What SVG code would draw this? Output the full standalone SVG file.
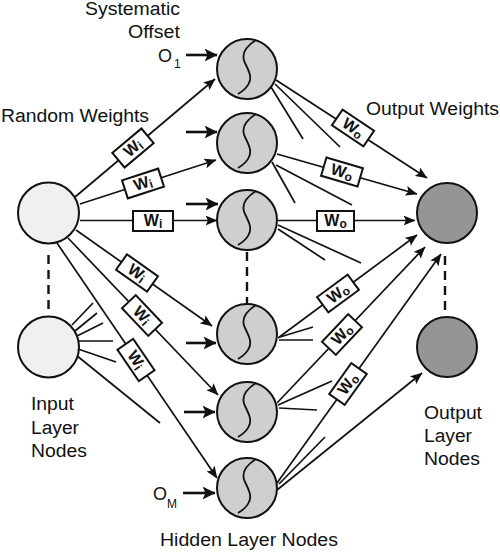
<svg xmlns="http://www.w3.org/2000/svg" xmlns:xlink="http://www.w3.org/1999/xlink" width="500" height="552" viewBox="0 0 500 552">
<style>
.lbl{font-family:"Liberation Sans",Arial,sans-serif;font-size:18px;fill:#111}
.sub{font-size:12px}
.in{fill:#f0f0f0;stroke:#111;stroke-width:2}
.hid{fill:#cfcfd1;stroke:#111;stroke-width:2}
.out{fill:#959597;stroke:#111;stroke-width:2}
.scurve{fill:none;stroke:#111;stroke-width:1.8}
.c{stroke:#111;stroke-width:1.7;fill:none}
.ca{stroke:#111;stroke-width:1.7;fill:none;marker-end:url(#ah)}
.off{stroke:#111;stroke-width:2.6;fill:none;marker-end:url(#ahb)}
.dash{stroke:#111;stroke-width:2.4;stroke-dasharray:9 6;fill:none}
.box{fill:#fff;stroke:#111;stroke-width:2}
.bt{font-family:"Liberation Sans",Arial,sans-serif;font-weight:bold;font-size:16px;fill:#111;text-anchor:middle}
.bs{font-size:12px}
</style>
<defs>
<marker id="ah" markerUnits="userSpaceOnUse" markerWidth="12" markerHeight="10" refX="11.5" refY="5" orient="auto" viewBox="0 0 12 10"><path d="M0,0 L12,5 L0,10 L2.5,5 Z" fill="#111"/></marker>
<marker id="ahb" markerUnits="userSpaceOnUse" markerWidth="13" markerHeight="13" refX="12.5" refY="6.5" orient="auto" viewBox="0 0 13 13"><path d="M0,0 L13,6.5 L0,13 L3,6.5 Z" fill="#111"/></marker>
<path id="sc" d="M9,-29 C-2,-22 -6,-14 -2,-6 C2,2 5,8 2,14 C0,19 -4,22 -9,25"/>
</defs>

<g id="connectors">
<!-- dashed continuation lines -->
<line class="dash" x1="48.5" y1="255" x2="48.5" y2="313"/>
<line class="dash" x1="247" y1="252" x2="247" y2="304"/>
<line class="dash" x1="445" y1="256" x2="445" y2="312"/>
<!-- input 1 to hidden -->
<line class="ca" x1="75" y1="197" x2="215" y2="79"/>
<line class="ca" x1="80" y1="204" x2="216" y2="160"/>
<line class="ca" x1="80" y1="220.5" x2="217" y2="220.5"/>
<line class="ca" x1="76" y1="230" x2="212" y2="326"/>
<line class="ca" x1="68" y1="238" x2="218" y2="395"/>
<line class="ca" x1="57" y1="243" x2="217" y2="478"/>
<!-- input 2 stubs -->
<line class="c" x1="72" y1="325" x2="93" y2="303"/>
<line class="c" x1="75" y1="331" x2="97" y2="313"/>
<line class="c" x1="77" y1="336" x2="103" y2="323"/>
<line class="c" x1="79" y1="341" x2="113" y2="341"/>
<line class="c" x1="78" y1="349" x2="116" y2="362"/>
<line class="c" x1="76" y1="355" x2="160" y2="423"/>
<!-- offset arrows -->
<line class="off" x1="186" y1="55" x2="217" y2="55"/>
<line class="off" x1="186" y1="132" x2="217" y2="132"/>
<line class="off" x1="186" y1="204" x2="218" y2="204"/>
<line class="off" x1="186" y1="343" x2="216" y2="343"/>
<line class="off" x1="184" y1="412" x2="215" y2="412"/>
<line class="off" x1="183" y1="493" x2="215" y2="493"/>
<!-- hidden to output -->
<line class="ca" x1="276" y1="80" x2="427" y2="178"/>
<line class="ca" x1="277" y1="154" x2="417" y2="194"/>
<line class="ca" x1="278" y1="220.5" x2="415" y2="220.5"/>
<line class="ca" x1="278" y1="338" x2="417" y2="235"/>
<line class="ca" x1="277" y1="403" x2="425" y2="247"/>
<line class="ca" x1="277" y1="483" x2="441" y2="254"/>
<line class="ca" x1="277" y1="490" x2="422" y2="373"/>
<!-- hidden stubs -->
<line class="c" x1="271" y1="87" x2="303" y2="139"/>
<line class="c" x1="275" y1="84" x2="340" y2="147"/>
<line class="c" x1="272" y1="162" x2="295" y2="203"/>
<line class="c" x1="276" y1="165" x2="352" y2="205"/>
<line class="c" x1="278" y1="229" x2="325" y2="260"/>
<line class="c" x1="278" y1="225" x2="361" y2="263"/>
<line class="c" x1="280" y1="337" x2="313" y2="327"/>
<line class="c" x1="279" y1="340" x2="313" y2="340"/>
<line class="c" x1="278" y1="405" x2="332" y2="381"/>
<line class="c" x1="279" y1="408" x2="317" y2="410"/>
<line class="c" x1="279" y1="484" x2="325" y2="437"/>
<!-- Wi boxes -->
<g transform="translate(133,148) rotate(-40.1)"><rect class="box" x="-19" y="-9.5" width="38" height="19"/><text class="bt" x="0" y="5">W<tspan class="bs" dy="2">i</tspan></text></g>
<g transform="translate(143,183.5) rotate(-17.9)"><rect class="box" x="-19" y="-9.5" width="38" height="19"/><text class="bt" x="0" y="5">W<tspan class="bs" dy="2">i</tspan></text></g>
<g transform="translate(153,221)"><rect class="box" x="-20" y="-10" width="40" height="20"/><text class="bt" x="0" y="5">W<tspan class="bs" dy="2">i</tspan></text></g>
<g transform="translate(137,273) rotate(35.2)"><rect class="box" x="-19" y="-9.5" width="38" height="19"/><text class="bt" x="0" y="5">W<tspan class="bs" dy="2">i</tspan></text></g>
<g transform="translate(142,315.5) rotate(46.3)"><rect class="box" x="-19" y="-9.5" width="38" height="19"/><text class="bt" x="0" y="5">W<tspan class="bs" dy="2">i</tspan></text></g>
<g transform="translate(136,360) rotate(55.7)"><rect class="box" x="-19" y="-9.5" width="38" height="19"/><text class="bt" x="0" y="5">W<tspan class="bs" dy="2">i</tspan></text></g>
<!-- Wo boxes -->
<g transform="translate(353,128) rotate(33.9)"><rect class="box" x="-19" y="-9.5" width="38" height="19"/><text class="bt" x="0" y="5">W<tspan class="bs" dy="2">o</tspan></text></g>
<g transform="translate(342,172) rotate(16.4)"><rect class="box" x="-19" y="-9.5" width="38" height="19"/><text class="bt" x="0" y="5">W<tspan class="bs" dy="2">o</tspan></text></g>
<g transform="translate(335.5,221)"><rect class="box" x="-18.5" y="-10" width="37" height="20"/><text class="bt" x="0" y="5">W<tspan class="bs" dy="2">o</tspan></text></g>
<g transform="translate(338,293.5) rotate(-36.5)"><rect class="box" x="-19" y="-9.5" width="38" height="19"/><text class="bt" x="0" y="5">W<tspan class="bs" dy="2">o</tspan></text></g>
<g transform="translate(342,334.5) rotate(-46.5)"><rect class="box" x="-19" y="-9.5" width="38" height="19"/><text class="bt" x="0" y="5">W<tspan class="bs" dy="2">o</tspan></text></g>
<g transform="translate(348,384) rotate(-54.4)"><rect class="box" x="-19" y="-9.5" width="38" height="19"/><text class="bt" x="0" y="5">W<tspan class="bs" dy="2">o</tspan></text></g>
</g>

<g id="input1"><circle class="in" cx="48.5" cy="213" r="30.5"/></g>
<g id="input2"><circle class="in" cx="48.5" cy="347" r="30.5"/></g>

<g id="hidden1"><circle class="hid" cx="247" cy="69" r="30"/><use href="#sc" xlink:href="#sc" class="scurve" transform="translate(247,69)"/></g>
<g id="hidden2"><circle class="hid" cx="247" cy="143" r="30"/><use href="#sc" xlink:href="#sc" class="scurve" transform="translate(247,143)"/></g>
<g id="hidden3"><circle class="hid" cx="247" cy="220" r="30"/><use href="#sc" xlink:href="#sc" class="scurve" transform="translate(247,220)"/></g>
<g id="hidden4"><circle class="hid" cx="247" cy="334" r="30"/><use href="#sc" xlink:href="#sc" class="scurve" transform="translate(247,334)"/></g>
<g id="hidden5"><circle class="hid" cx="247" cy="412" r="30"/><use href="#sc" xlink:href="#sc" class="scurve" transform="translate(247,412)"/></g>
<g id="hidden6"><circle class="hid" cx="247" cy="488" r="30"/><use href="#sc" xlink:href="#sc" class="scurve" transform="translate(247,488)"/></g>

<g id="output1"><circle class="out" cx="447" cy="213" r="30"/></g>
<g id="output2"><circle class="out" cx="447" cy="347" r="30"/></g>

<g id="labels">
<text class="lbl" x="85" y="15" textLength="95" lengthAdjust="spacingAndGlyphs">Systematic</text>
<text class="lbl" x="128" y="38" textLength="52" lengthAdjust="spacingAndGlyphs">Offset</text>
<text class="lbl" x="158" y="62">O</text><text class="lbl sub" x="174" y="68">1</text>
<text class="lbl" x="1" y="122" textLength="148" lengthAdjust="spacingAndGlyphs">Random Weights</text>
<text class="lbl" x="366" y="115" textLength="133" lengthAdjust="spacingAndGlyphs">Output Weights</text>
<text class="lbl" x="31" y="410" textLength="43" lengthAdjust="spacingAndGlyphs">Input</text>
<text class="lbl" x="31" y="434" textLength="48" lengthAdjust="spacingAndGlyphs">Layer</text>
<text class="lbl" x="31" y="457" textLength="56" lengthAdjust="spacingAndGlyphs">Nodes</text>
<text class="lbl" x="424" y="419" textLength="58" lengthAdjust="spacingAndGlyphs">Output</text>
<text class="lbl" x="424" y="442" textLength="48" lengthAdjust="spacingAndGlyphs">Layer</text>
<text class="lbl" x="424" y="465" textLength="56" lengthAdjust="spacingAndGlyphs">Nodes</text>
<text class="lbl" x="153" y="500">O</text><text class="lbl sub" x="167" y="508">M</text>
<text class="lbl" x="160" y="546" textLength="178" lengthAdjust="spacingAndGlyphs">Hidden Layer Nodes</text>
</g>
</svg>
